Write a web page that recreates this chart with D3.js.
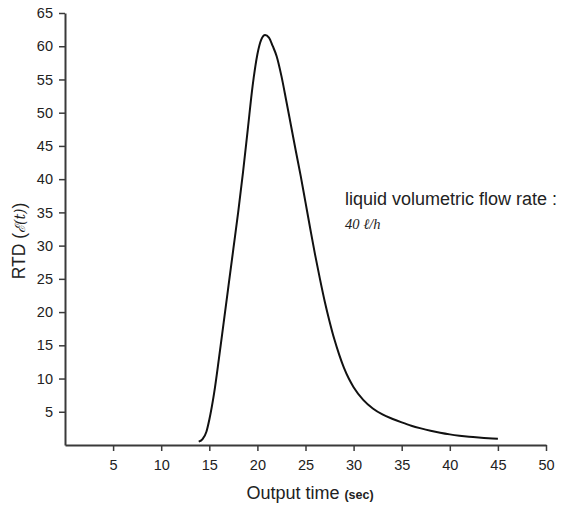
<!DOCTYPE html>
<html>
<head>
<meta charset="utf-8">
<script src="https://cdn.jsdelivr.net/npm/d3@7"></script>
<style>
  body { margin: 0; background: #fff; }
  svg { display: block; font-family: "Liberation Sans", Arial, sans-serif; }
</style>
</head>
<body>
<div id="chart"></div>
<script>
// RTD curve
const time = [13.9, 14.3, 14.7, 15.0, 15.5, 16.0, 16.5, 17.0, 17.5, 18.0, 18.5, 19.0, 19.5, 20.0, 20.4, 20.8, 21.2, 21.6, 22.0, 22.5, 23.0, 23.5, 24.0, 24.5, 25.0, 25.5, 26.0, 26.5, 27.0, 27.5, 28.0, 28.5, 29.0, 29.5, 30.0, 31.0, 32.0, 33.0, 34.0, 35.0, 36.0, 37.0, 38.0, 39.0, 40.0, 41.0, 42.0, 43.0, 44.0, 45.0];
const rtd  = [0.5, 0.9, 2.0, 3.8, 7.8, 13.0, 18.5, 24.0, 29.5, 35.0, 41.0, 47.5, 54.0, 58.8, 61.0, 61.7, 61.3, 60.0, 58.5, 55.5, 51.8, 48.0, 44.2, 40.5, 36.5, 32.5, 28.6, 25.0, 21.6, 18.6, 15.9, 13.6, 11.6, 10.0, 8.7, 6.8, 5.5, 4.6, 3.95, 3.4, 2.9, 2.5, 2.15, 1.85, 1.6, 1.4, 1.24, 1.12, 1.02, 0.95];
const xTicks = [5, 10, 15, 20, 25, 30, 35, 40, 45, 50];
const yTicks = [5, 10, 15, 20, 25, 30, 35, 40, 45, 50, 55, 60, 65];

const width = 565, height = 510;
const margin = { top: 13, right: 19, bottom: 65, left: 65 };

const svg = d3.select("#chart").append("svg")
  .attr("width", width)
  .attr("height", height);

const x = d3.scaleLinear().domain([0, 50]).range([margin.left, width - margin.right]);
const y = d3.scaleLinear().domain([0, 65]).range([height - margin.bottom, margin.top]);

const axisColor = "#3a3a3a";

// x axis
const gx = svg.append("g")
  .attr("transform", `translate(0,${y(0)})`)
  .call(d3.axisBottom(x).tickValues(xTicks).tickSize(6).tickPadding(9).tickSizeOuter(0));
gx.select(".domain").attr("stroke", axisColor).attr("stroke-width", 2);
gx.selectAll(".tick line").attr("stroke", axisColor).attr("stroke-width", 1.5);
gx.selectAll(".tick text").style("font-size", "14.5px").attr("fill", "#222")
  .style("font-family", "Liberation Sans, Arial, sans-serif");

// y axis
const gy = svg.append("g")
  .attr("transform", `translate(${x(0)},0)`)
  .call(d3.axisLeft(y).tickValues(yTicks).tickSize(6).tickPadding(6).tickSizeOuter(0));
gy.select(".domain").attr("stroke", axisColor).attr("stroke-width", 2);
gy.selectAll(".tick line").attr("stroke", axisColor).attr("stroke-width", 1.5);
gy.selectAll(".tick text").style("font-size", "14.5px").attr("fill", "#222")
  .style("font-family", "Liberation Sans, Arial, sans-serif");

// curve
const line = d3.line()
  .x((d, i) => x(time[i]))
  .y(d => y(d))
  .curve(d3.curveMonotoneX);

svg.append("path")
  .datum(rtd)
  .attr("fill", "none")
  .attr("stroke", "#111")
  .attr("stroke-width", 2)
  .attr("d", line);

// x title
const xt = svg.append("text")
  .attr("x", 310)
  .attr("y", 499)
  .attr("text-anchor", "middle")
  .attr("fill", "#222")
  .style("font-size", "18px");
xt.append("tspan").text("Output time ");
xt.append("tspan").text("(sec)").style("font-size", "12.5px").style("font-weight", "bold");

// y title
const yt = svg.append("text")
  .attr("transform", "translate(25,241) rotate(-90)")
  .attr("text-anchor", "middle")
  .attr("fill", "#222")
  .style("font-size", "17.5px");
yt.append("tspan").text("RTD (");
yt.append("tspan").text("ℰ(t)")
  .style("font-family", "DejaVu Serif, serif").style("font-style", "italic").style("font-size", "14px");
yt.append("tspan").text(")");

// annotation
svg.append("text")
  .attr("x", 345)
  .attr("y", 205)
  .attr("fill", "#222")
  .style("font-size", "18px")
  .text("liquid volumetric flow rate :");

svg.append("text")
  .attr("x", 345)
  .attr("y", 229)
  .attr("fill", "#222")
  .style("font-family", "Liberation Serif, serif")
  .style("font-style", "italic")
  .style("font-size", "14.5px")
  .text("40 ℓ/h");
</script>
</body>
</html>
